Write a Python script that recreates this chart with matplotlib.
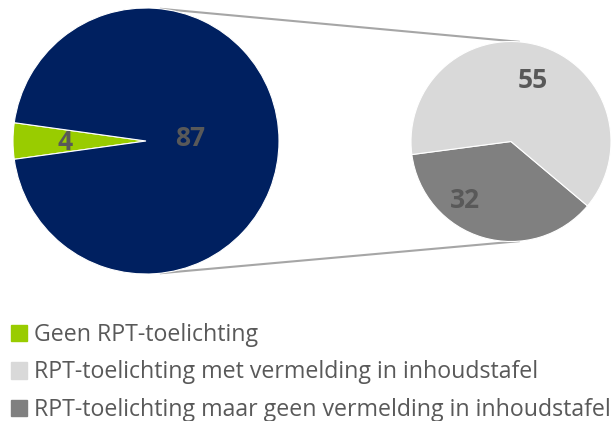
import numpy as np
import matplotlib
matplotlib.use("Agg")
import matplotlib.pyplot as plt
from matplotlib.patches import Patch

## Data
main_labels = ["Geen RPT-toelichting", "RPT-toelichting"]
main_values = [4, 87]
sub_labels = ["RPT-toelichting maar geen vermelding in inhoudstafel",
              "RPT-toelichting met vermelding in inhoudstafel"]
sub_values = [32, 55]

green = "#99cc00"
navy = "#002060"
light = "#d9d9d9"
dark = "#808080"
txt = "#595959"

plt.rcParams['font.family'] = ['Open Sans', 'DejaVu Sans']

W, H = 615, 421
fig = plt.figure(figsize=(W / 100, H / 100), dpi=100)
ax = fig.add_axes([0, 0, 1, 1])

# left pie
c1 = (146, H - 141)
r1 = 133
green_span = main_values[0] / sum(main_values) * 360
ax.pie(main_values, colors=[green, navy], center=c1, radius=r1,
       startangle=180 - green_span / 2, counterclock=True,
       wedgeprops=dict(edgecolor='white', linewidth=0.8), frame=True)

# right pie
c2 = (511, H - 141.5)
r2 = 100
ax.pie(sub_values, colors=[dark, light], center=c2, radius=r2,
       startangle=187.5, counterclock=True,
       wedgeprops=dict(edgecolor='white', linewidth=0.8), frame=True)
ax.set_xlim(0, W)
ax.set_ylim(0, H)
ax.axis('off')

# connector lines
for a1, a2 in [(84, 85), (-84, -85)]:
    p1 = (c1[0] + r1 * np.cos(np.radians(a1)), c1[1] + r1 * np.sin(np.radians(a1)))
    p2 = (c2[0] + r2 * np.cos(np.radians(a2)), c2[1] + r2 * np.sin(np.radians(a2)))
    ax.plot([p1[0], p2[0]], [p1[1], p2[1]], color="#a6a6a6", lw=1.5,
            solid_capstyle='butt', zorder=0)

# value labels
lab_kw = dict(color=txt, fontsize=19, fontweight='bold', ha='center', va='center')
ax.text(65, H - 143, str(main_values[0]), **lab_kw)
ax.text(190, H - 138, str(main_values[1]), **lab_kw)
ax.text(533, H - 81, str(sub_values[1]), **lab_kw)
ax.text(465, H - 200, str(sub_values[0]), **lab_kw)

# legend
handles = [Patch(color=green, label=main_labels[0]),
           Patch(color=light, label=sub_labels[1]),
           Patch(color=dark, label=sub_labels[0])]
leg = fig.legend(handles=handles, loc='upper left',
                 bbox_to_anchor=(11 / W, 1 - 323 / H), frameon=False,
                 fontsize=16.7, handlelength=0.68, handleheight=0.72,
                 handletextpad=0.3, labelspacing=0.58, borderaxespad=0,
                 borderpad=0)
for t in leg.get_texts():
    t.set_color(txt)

fig.savefig("out.png", dpi=100)
